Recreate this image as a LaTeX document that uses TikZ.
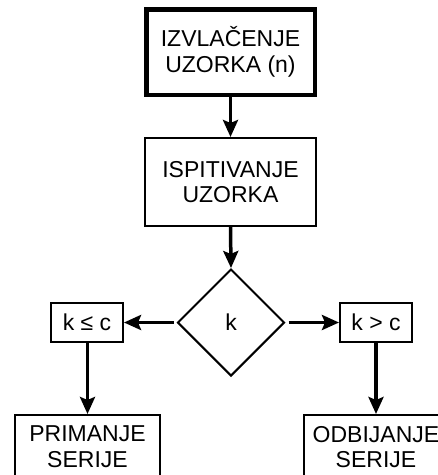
\documentclass[tikz,border=0pt]{standalone}
\usepackage{fontspec}
\setmainfont{Liberation Sans}
\usetikzlibrary{shapes.geometric,arrows.meta}
\begin{document}
\begin{tikzpicture}[x=1pt,y=-1pt,
  every node/.style={font=\fontsize{23}{25.5}\selectfont},
  box/.style={draw, line width=2pt, rectangle, align=center, inner sep=0pt},
  thickbox/.style={draw, line width=4.5pt, rectangle, align=center, inner sep=0pt},
  dec/.style={draw, line width=2pt, diamond, inner sep=0pt, minimum width=107pt, minimum height=107pt},
  arr/.style={line width=3.5pt, -{Stealth[length=17pt,width=15pt,inset=3pt]}}]
\clip (0,0) rectangle (438,475);
\useasboundingbox (0,0) rectangle (438,475);
\node[thickbox, minimum width=168.5pt, minimum height=85.5pt] (izv) at (230.5,52) {IZVLAČENJE\\UZORKA (n)};
\node[box, minimum width=171pt, minimum height=88pt] (isp) at (230.5,182) {ISPITIVANJE\\UZORKA};
\node[dec] (k) at (231,322.5) {k};
\node[box, minimum width=72pt, minimum height=39pt] (kle) at (87,322.5) {k ≤ c};
\node[box, minimum width=72pt, minimum height=39pt] (kgt) at (376,322.5) {k > c};
\node[box, anchor=north, minimum width=145pt, inner ysep=11pt, text depth=30pt] (prim) at (87.5,414) {PRIMANJE\\SERIJE};
\node[box, anchor=north, minimum width=145pt, inner ysep=11pt, text depth=30pt] (odb) at (376,414) {ODBIJANJE\\SERIJE};
\draw[arr] (izv.south) -- (isp.north);
\draw[arr] (isp.south) -- (k.north);
\draw[arr, shorten <=3pt] (k.west) -- (kle.east);
\draw[arr, shorten <=3pt] (k.east) -- (kgt.west);
\draw[arr] (kle.south -| prim.north) -- (prim.north);
\draw[arr] (kgt.south) -- (odb.north);
\end{tikzpicture}
\end{document}
